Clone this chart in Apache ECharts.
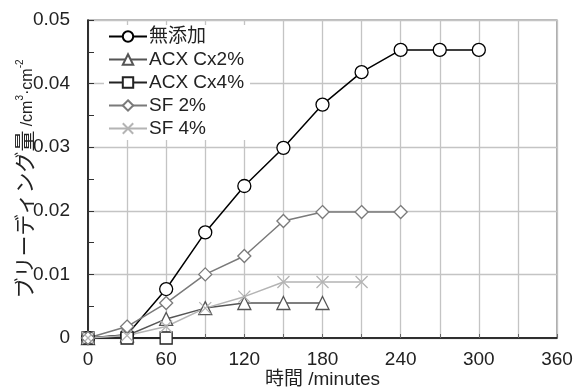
<!DOCTYPE html>
<html>
<head>
<meta charset="utf-8">
<script src="https://cdn.jsdelivr.net/npm/echarts@6/dist/echarts.min.js"></script>
<style>
  html, body { margin: 0; padding: 0; background: #fff; }
  #chart { width: 574px; height: 392px; }
</style>
</head>
<body>
<div id="chart"></div>
<script>
// Bleeding amount over time for each admixture
const times = [0, 30, 60, 90, 120, 150, 180, 210, 240, 270, 300];
const seriesNames = ['無添加', 'ACX Cx2%', 'ACX Cx4%', 'SF 2%', 'SF 4%'];
const plain  = [0, 0.0005, 0.0077, 0.0166, 0.0239, 0.0299, 0.0367, 0.0418, 0.0453, 0.0453, 0.0453];
const acx2   = [0, 0.0004, 0.0030, 0.0047, 0.0055, 0.0055, 0.0055];
const acx4   = [0, 0, 0];
const sf2    = [0, 0.0018, 0.0055, 0.0100, 0.0129, 0.0184, 0.0198, 0.0198, 0.0198];
const sf4    = [0, 0.0004, 0.0018, 0.0047, 0.0065, 0.0088, 0.0088, 0.0088];
const xTicks = [0, 60, 120, 180, 240, 300, 360];
const yTicks = [0, 0.01, 0.02, 0.03, 0.04, 0.05];

const FONT = "'Liberation Sans','Noto Sans CJK JP',sans-serif";
const FS = 19;
const pairs = vals => vals.map((v, i) => [times[i], v]);

const crossPath = 'path://M0,0L10,10M10,0L0,10';

function makeSeries(name, vals, color, symbol, size) {
  return {
    name: name,
    type: 'line',
    data: pairs(vals),
    symbol: symbol,
    symbolSize: size,
    showAllSymbol: true,
    lineStyle: { color: color, width: 1.5 },
    itemStyle: {
      color: symbol === crossPath ? color : '#fff',
      borderColor: color,
      borderWidth: 1.3
    },
    emphasis: { disabled: true },
    animation: false
  };
}

const chart = echarts.init(document.getElementById('chart'), null, { renderer: 'canvas' });
chart.setOption({
  animation: false,
  textStyle: { fontFamily: FONT },
  grid: {
    left: 88, right: 17, top: 20, bottom: 54,
    containLabel: false,
    outerBoundsMode: 'none',
    show: true, borderColor: '#777', borderWidth: 1.2, backgroundColor: '#fff'
  },
  legend: {
    orient: 'vertical',
    left: 104, top: 25,
    backgroundColor: '#fff',
    padding: [2, 6, 2, 4],
    itemWidth: 38, itemHeight: 13, itemGap: 4,
    textStyle: { fontFamily: FONT, fontSize: FS, lineHeight: 19, color: '#222', padding: [0, 0, 0, -3] },
    data: seriesNames
  },
  xAxis: {
    type: 'value',
    min: 0, max: 360, interval: 30,
    name: '時間 /minutes',
    nameLocation: 'middle',
    nameMoveOverlap: false,
    nameGap: 32,
    nameTextStyle: { fontFamily: FONT, fontSize: FS, color: '#222' },
    axisLine: { lineStyle: { color: '#000', width: 1.5 } },
    axisTick: { show: true, inside: true, length: 4, lineStyle: { color: '#666' } },
    axisLabel: {
      fontFamily: FONT, fontSize: FS, color: '#222', margin: 12,
      formatter: v => (xTicks.indexOf(v) >= 0 ? String(v) : '')
    },
    splitLine: { show: true, lineStyle: { color: '#c4c4c4', width: 1.3 } }
  },
  yAxis: {
    type: 'value',
    min: 0, max: 0.05, interval: 0.01,
    name: '{j|ブリーディング量} {t|/cm}{s|3}{t|·cm}{s|-2}',
    nameLocation: 'middle',
    nameRotate: 90,
    nameMoveOverlap: false,
    nameGap: 51,
    nameTextStyle: {
      fontFamily: FONT, color: '#222', fontSize: 15,
      rich: {
        j: { fontFamily: FONT, fontSize: 21, color: '#222', lineHeight: 22 },
        t: { fontFamily: FONT, fontSize: 16, color: '#222', lineHeight: 22, verticalAlign: 'bottom', padding: [0, 0, 1, 0] },
        s: { fontFamily: FONT, fontSize: 10, color: '#222', verticalAlign: 'top', lineHeight: 22, padding: [0, 0, 6, 0] }
      }
    },
    axisLine: { show: true, lineStyle: { color: '#000', width: 1.5 } },
    axisTick: { show: true, inside: true, length: 6, lineStyle: { color: '#333' } },
    minorTick: { show: true, splitNumber: 2, length: 6, lineStyle: { color: '#333' } },
    axisLabel: {
      fontFamily: FONT, fontSize: FS, color: '#222', margin: 18,
      formatter: v => {
        const t = yTicks.find(k => Math.abs(k - v) < 1e-9);
        if (t === undefined) return '';
        return t === 0 ? '0' : t.toFixed(2);
      }
    },
    splitLine: { show: true, lineStyle: { color: '#c4c4c4', width: 1.3 } }
  },
  series: [
    makeSeries('無添加', plain, '#000', 'circle', 13),
    makeSeries('ACX Cx2%', acx2, '#555', 'triangle', 13),
    makeSeries('ACX Cx4%', acx4, '#222', 'rect', 12),
    makeSeries('SF 2%', sf2, '#7a7a7a', 'diamond', 13),
    makeSeries('SF 4%', sf4, '#b4b4b4', crossPath, 12)
  ]
});
</script>
</body>
</html>
